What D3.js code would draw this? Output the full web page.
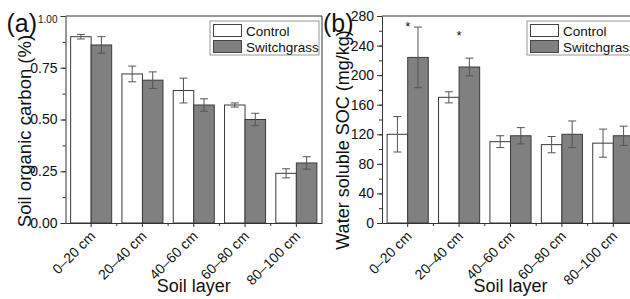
<!DOCTYPE html>
<html>
<head>
<meta charset="utf-8">
<script src="https://cdn.jsdelivr.net/npm/d3@7"></script>
<style>
  body { margin: 0; background: #fff; }
  svg { font-family: "Liberation Sans", Arial, sans-serif; }
</style>
</head>
<body>
<div id="chart"></div>
<script>
const layers = ["0\u201320 cm", "20\u201340 cm", "40\u201360 cm", "60\u201380 cm", "80\u2013100 cm"];
const seriesNames = ["Control", "Switchgrass"];

const socControl = [0.90, 0.72, 0.64, 0.57, 0.24];
const socControlErr = [0.011, 0.038, 0.06, 0.01, 0.022];
const socSwitch = [0.86, 0.69, 0.57, 0.50, 0.29];
const socSwitchErr = [0.04, 0.04, 0.03, 0.03, 0.03];

const wsocControl = [120, 170, 110, 106, 108];
const wsocControlErr = [24, 7.5, 8, 11, 19];
const wsocSwitch = [224, 211, 118, 120, 118];
const wsocSwitchErr = [41, 12, 11, 18, 13];

const starLayers = ["0\u201320 cm", "20\u201340 cm"];
const starValues = [271, 258];

const socTicks = [0, 0.25, 0.5, 0.75, 1.0];
const wsocTicks = [0, 40, 80, 120, 160, 200, 240, 280];

const colors = { Control: "#ffffff", Switchgrass: "#808080" };
const FONT = "'Liberation Sans', Arial, sans-serif";

const svg = d3.select("#chart").append("svg")
    .attr("width", 630)
    .attr("height", 299);

function drawPanel(opts) {
    const { left, right, top, bottom, yMax, ticks, minorStep, fmt,
            control, controlErr, sw, swErr, label, yTitle, yTitleX, yTitleY, yTitleSize, legendX } = opts;

    const x0 = d3.scaleBand().domain(layers).range([left, right]);
    const x1 = d3.scaleBand().domain(seriesNames).range([0, x0.bandwidth()]).paddingOuter(0.25);
    const y = d3.scaleLinear().domain([0, yMax]).range([bottom, top]);

    const g = svg.append("g");

    // frame top/right
    g.append("path")
        .attr("d", `M${left},${top}H${right}V${bottom}`)
        .attr("fill", "none").attr("stroke", "#333").attr("stroke-width", 1);

    const rows = layers.map((l, i) => ({
        layer: l,
        vals: [
            { s: "Control", v: control[i], e: controlErr[i] },
            { s: "Switchgrass", v: sw[i], e: swErr[i] }
        ]
    }));

    const grp = g.selectAll(".grp").data(rows).enter().append("g")
        .attr("transform", d => `translate(${x0(d.layer)},0)`);

    grp.selectAll("rect").data(d => d.vals).enter().append("rect")
        .attr("x", d => x1(d.s))
        .attr("y", d => y(d.v))
        .attr("width", x1.bandwidth())
        .attr("height", d => y(0) - y(d.v))
        .attr("fill", d => colors[d.s])
        .attr("stroke", "#3a3a3a")
        .attr("stroke-width", 1);

    const eb = grp.selectAll(".eb").data(d => d.vals).enter().append("g")
        .attr("stroke", "#555").attr("stroke-width", 1);
    const cx = d => x1(d.s) + x1.bandwidth() / 2;
    eb.append("line")
        .attr("x1", cx).attr("x2", cx)
        .attr("y1", d => y(d.v + d.e)).attr("y2", d => y(d.v - d.e));
    eb.append("line")
        .attr("x1", d => cx(d) - 4).attr("x2", d => cx(d) + 4)
        .attr("y1", d => y(d.v + d.e)).attr("y2", d => y(d.v + d.e));
    eb.append("line")
        .attr("x1", d => cx(d) - 4).attr("x2", d => cx(d) + 4)
        .attr("y1", d => y(d.v - d.e)).attr("y2", d => y(d.v - d.e));

    // y axis minor
    const minor = d3.range(0, yMax + 1e-9, minorStep);
    g.append("g")
        .attr("transform", `translate(${left},0)`)
        .call(d3.axisLeft(y).tickValues(minor).tickSize(3).tickFormat(""))
        .call(a => a.select(".domain").remove())
        .selectAll("line").attr("stroke", "#333");

    const yAx = g.append("g")
        .attr("class", "yaxis")
        .attr("transform", `translate(${left},0)`)
        .call(d3.axisLeft(y).tickValues(ticks).tickSize(5).tickPadding(3).tickFormat(fmt).tickSizeOuter(0));
    yAx.select(".domain").attr("stroke", "#333");
    yAx.selectAll("line").attr("stroke", "#333");
    yAx.selectAll("text").attr("font-size", 14).attr("fill", "#111")
        .attr("font-family", FONT);

    // x axis minor ticks between groups
    const mids = layers.slice(1).map(l => x0(l));
    g.append("g").selectAll("line").data(mids).enter().append("line")
        .attr("x1", d => d).attr("x2", d => d)
        .attr("y1", bottom).attr("y2", bottom + 3)
        .attr("stroke", "#333");

    const xAx = g.append("g")
        .attr("transform", `translate(0,${bottom})`)
        .call(d3.axisBottom(x0).tickSize(4).tickSizeOuter(0));
    xAx.select(".domain").attr("stroke", "#333");
    xAx.selectAll("line").attr("stroke", "#333");
    xAx.selectAll("text")
        .attr("x", 0).attr("y", 0).attr("dy", null)
        .attr("transform", "translate(5,14) rotate(-45)")
        .style("text-anchor", "end")
        .attr("font-size", 14).attr("fill", "#111")
        .attr("font-family", FONT);

    // titles
    g.append("text")
        .attr("transform", `translate(${yTitleX},${yTitleY}) rotate(-90)`)
        .attr("text-anchor", "middle")
        .attr("font-size", yTitleSize).attr("fill", "#111")
        .text(yTitle);

    g.append("text")
        .attr("x", (left + right) / 2)
        .attr("y", 292)
        .attr("text-anchor", "middle")
        .attr("font-size", 18).attr("fill", "#111")
        .text("Soil layer");

    g.append("text")
        .attr("x", left - 59).attr("y", 32)
        .attr("font-size", 25).attr("fill", "#111")
        .text(label);

    // legend
    const lg = g.append("g").attr("transform", `translate(${legendX},21)`);
    lg.append("rect").attr("x", 0).attr("y", 0).attr("width", 109).attr("height", 34)
        .attr("fill", "#fff").attr("stroke", "#999");
    seriesNames.forEach((s, i) => {
        lg.append("rect").attr("x", 3.5).attr("y", 3.5 + i * 16).attr("width", 28).attr("height", 12)
            .attr("fill", colors[s]).attr("stroke", "#444");
        lg.append("text").attr("x", 36).attr("y", 14.5 + i * 16)
            .attr("font-size", 13.5).attr("fill", "#111").text(s);
    });

    return { g, x0, y };
}

const pa = drawPanel({
    left: 65.5, right: 322, top: 16, bottom: 223, yMax: 1, ticks: socTicks, minorStep: 0.125,
    fmt: d3.format(".2f"), control: socControl, controlErr: socControlErr,
    sw: socSwitch, swErr: socSwitchErr, label: "(a)",
    yTitle: "Soil organic carbon (%)", yTitleX: 31, yTitleY: 131, yTitleSize: 18.5, legendX: 210
});

// smaller top label in panel (a)
pa.g.select(".yaxis").selectAll(".tick text").filter(d => d === 1)
    .attr("font-size", 10).attr("dy", "0.6em");

const pb = drawPanel({
    left: 382, right: 639, top: 16, bottom: 223, yMax: 280, ticks: wsocTicks, minorStep: 20,
    fmt: d3.format("d"), control: wsocControl, controlErr: wsocControlErr,
    sw: wsocSwitch, swErr: wsocSwitchErr, label: "(b)",
    yTitle: "Water soluble SOC (mg/kg)", yTitleX: 349, yTitleY: 140, yTitleSize: 18, legendX: 527
});

svg.append("g").selectAll("text").data(starLayers).enter().append("text")
    .attr("x", d => pb.x0(d) + pb.x0.bandwidth() / 2)
    .attr("y", (d, i) => pb.y(starValues[i]) + 8)
    .attr("text-anchor", "middle")
    .attr("font-size", 13).attr("fill", "#111")
    .text("*");
</script>
</body>
</html>
